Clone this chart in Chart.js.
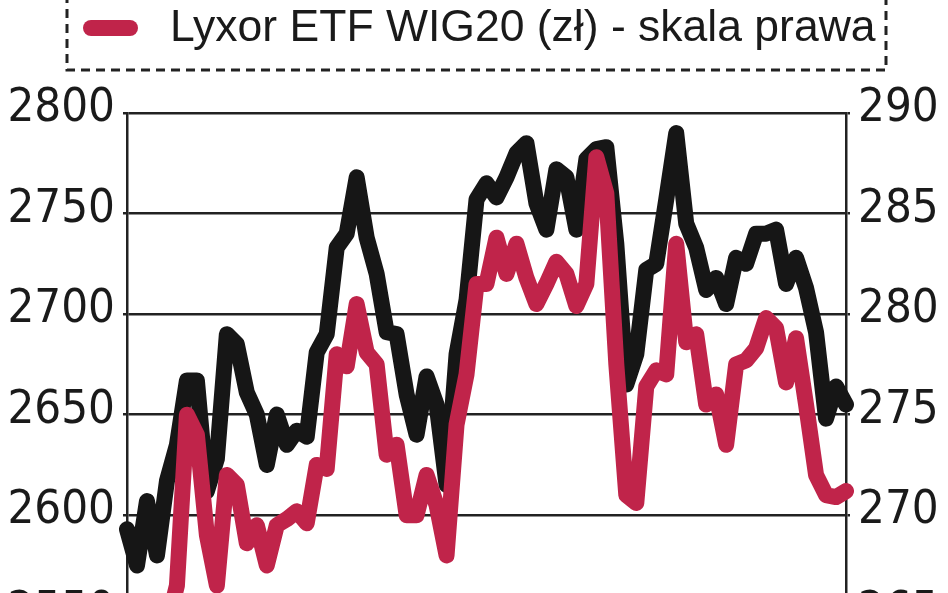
<!DOCTYPE html>
<html>
<head>
<meta charset="utf-8">
<script src="https://cdn.jsdelivr.net/npm/chart.js@4.4.1/dist/chart.umd.min.js"></script>
<style>
  html, body { margin: 0; padding: 0; background: #fff; overflow: hidden; }
  #wrap { position: relative; width: 948px; height: 853px; }
</style>
</head>
<body>
<div id="wrap"><canvas id="myChart"></canvas></div>
<script>
// WIG20 (left scale) vs Lyxor ETF WIG20 (right scale), daily closes
var wig20 = [2593, 2575, 2607, 2580, 2617, 2635, 2667, 2667, 2612, 2628,
             2690, 2685, 2661, 2650, 2625, 2650, 2635, 2642, 2639, 2681,
             2690, 2733, 2740, 2768, 2738, 2720, 2691, 2690, 2660, 2640,
             2669, 2655, 2615, 2680, 2707, 2757, 2765, 2758, 2768, 2780,
             2785, 2755, 2742, 2772, 2768, 2742, 2777, 2782, 2783, 2735,
             2665, 2680, 2722, 2725, 2757, 2790, 2745, 2733, 2712, 2718,
             2705, 2728, 2725, 2740, 2740, 2742, 2715, 2728, 2713, 2691,
             2648, 2664, 2655];
var lyxor = [263, 263.5, 264, 263, 264.5, 266.5, 275, 274, 269, 266.5,
             272, 271.5, 268.6, 269.5, 267.5, 269.5, 269.8, 270.2, 269.6, 272.5,
             272.3, 278, 277.4, 280.5, 278.1, 277.5, 273, 273.5, 270, 270,
             272, 270.5, 268, 274.5, 277, 281.5, 281.5, 283.8, 282, 283.5,
             281.8, 280.5, 281.5, 282.6, 282, 280.4, 281.5, 287.8, 286, 277.5,
             271, 270.6, 276.4, 277.2, 277, 283.5, 278.6, 279, 275.5, 276,
             273.5, 277.5, 277.7, 278.3, 279.8, 279.3, 276.6, 278.8, 275.5, 272,
             271, 270.9, 271.2];
var days = wig20.map(function (v, i) { return i + 1; });

var leftTicks = [2450, 2800, 50];
var rightTicks = [255, 290, 5];

var tickFont = { family: '"DejaVu Sans Condensed", "Liberation Sans", sans-serif', size: 47 };

var legendBox = {
    id: 'legendBox',
    afterDraw: function (chart) {
        var ctx = chart.ctx;
        var ds = chart.data.datasets[0];
        ctx.save();
        ctx.strokeStyle = '#222';
        ctx.lineWidth = 3;
        ctx.setLineDash([9, 6]);
        ctx.strokeRect(67, -10, 819, 80);
        ctx.setLineDash([]);
        ctx.strokeStyle = ds.borderColor;
        ctx.lineWidth = 16;
        ctx.lineCap = 'round';
        ctx.beginPath();
        ctx.moveTo(91, 28);
        ctx.lineTo(130, 28);
        ctx.stroke();
        ctx.fillStyle = '#1a1a1a';
        ctx.font = '44.5px "Liberation Sans", Arial, sans-serif';
        ctx.textBaseline = 'alphabetic';
        ctx.fillText(ds.label, 170, 41);
        ctx.restore();
    }
};

function plain(v) { return String(v); }

var testChart = new Chart('myChart', {
    type: 'line',
    data: {
        labels: days,
        datasets: [{
            label: 'Lyxor ETF WIG20 (zł) - skala prawa',
            data: lyxor,
            yAxisID: 'y1',
            borderColor: '#c0244a',
            borderWidth: 16,
            pointRadius: 0,
            borderJoinStyle: 'round',
            borderCapStyle: 'round',
            tension: 0,
            order: 0
        }, {
            label: 'WIG20',
            data: wig20,
            yAxisID: 'y',
            borderColor: '#161616',
            borderWidth: 16,
            pointRadius: 0,
            borderJoinStyle: 'round',
            borderCapStyle: 'round',
            tension: 0,
            order: 1
        }]
    },
    options: {
        responsive: true,
        maintainAspectRatio: false,
        animation: false,
        layout: {
            padding: { top: 113, bottom: 0, left: 0, right: 0 }
        },
        plugins: {
            legend: { display: false },
            tooltip: { enabled: false }
        },
        scales: {
            x: {
                display: false,
                offset: false
            },
            y: {
                position: 'left',
                min: leftTicks[0],
                max: leftTicks[1],
                afterFit: function (scale) { scale.width = 127; },
                ticks: {
                    stepSize: leftTicks[2],
                    color: '#1a1a1a',
                    font: tickFont,
                    padding: 8,
                    labelOffset: -4,
                    callback: plain
                },
                grid: {
                    color: '#222',
                    lineWidth: 2.5,
                    tickLength: 4
                },
                border: { color: '#222', width: 2.5 }
            },
            y1: {
                position: 'right',
                min: rightTicks[0],
                max: rightTicks[1],
                afterFit: function (scale) { scale.width = 102; },
                ticks: {
                    stepSize: rightTicks[2],
                    color: '#1a1a1a',
                    font: tickFont,
                    padding: 8,
                    labelOffset: -4,
                    callback: plain
                },
                grid: {
                    drawOnChartArea: false,
                    color: '#222',
                    lineWidth: 2.5,
                    tickLength: 4
                },
                border: { color: '#222', width: 2.5 }
            }
        }
    },
    plugins: [legendBox]
});
</script>
</body>
</html>
